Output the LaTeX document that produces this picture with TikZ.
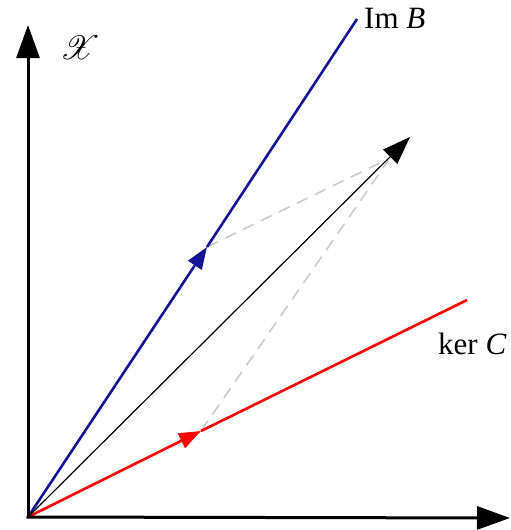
\documentclass[tikz,border=0pt]{standalone}
\usepackage{fontspec}
\setmainfont{Liberation Serif}
\usepackage{mathrsfs}
\usetikzlibrary{arrows.meta}
\definecolor{imblue}{RGB}{20,20,150}
\definecolor{kerred}{RGB}{255,0,0}
\definecolor{dashgray}{RGB}{200,200,200}
\begin{document}
\begin{tikzpicture}[x=1pt,y=-1pt,
  axis/.style={line width=3pt,-{Triangle[length=33pt,width=23pt]}},
  sub/.style={line width=2.6pt},
  midtip/.style={-{Triangle[length=22pt,width=16pt]}},
  sumvec/.style={line width=1.2pt,-{Triangle[length=28pt,width=20pt]}},
  comp/.style={line width=1.5pt,dashgray,dash pattern=on 12pt off 8pt},
  lbl/.style={font=\fontsize{31}{36}\selectfont,inner sep=0pt}]
\useasboundingbox (0,0) rectangle (511,530);
\coordinate (O) at (28,517);
\coordinate (Ytop) at (28,25);
\coordinate (Xend) at (510,518);
\coordinate (Bmid) at (207,247);
\coordinate (Bend) at (357,19);
\coordinate (Rmid) at (201,431);
\coordinate (Rend) at (467,300);
\coordinate (S) at (410,137);
\coordinate (Sbase) at (390,158);
% components
\draw[comp] (Bmid) -- (Sbase);
\draw[comp] (Rmid) -- (Sbase);
% subspaces
\draw[sub,imblue,midtip] (O) -- (Bmid);
\draw[sub,imblue] (Bmid) -- (Bend);
\draw[sub,kerred,midtip] (O) -- (Rmid);
\draw[sub,kerred] (Rmid) -- (Rend);
% sum vector
\draw[sumvec] (O) -- (S);
% axes
\draw[axis] (O) -- (Ytop);
\draw[axis] ([xshift=-1.5pt]O) -- (Xend);
% labels
\node[lbl,anchor=base west] (imb) at (364,28) {Im \textit{B}};
\node[lbl,anchor=base west] (kerc) at (438,354) {ker \textit{C}};
\node[inner sep=0pt,scale=1.35,font=\fontsize{24}{28}\selectfont] (xs) at (80,48) {$\mathscr{X}$};
\end{tikzpicture}
\end{document}
